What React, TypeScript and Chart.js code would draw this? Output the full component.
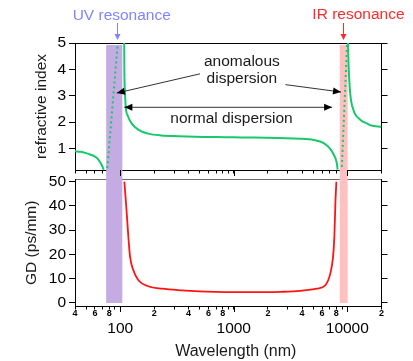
import React, { useEffect, useRef } from "react";
import { Chart, registerables } from "chart.js";
Chart.register(...registerables);

const W = 413;
const H = 361;
const FONT = "'Liberation Sans', Arial, Helvetica, sans-serif";

// ---- layout (pixels) ----
const PLOT_LEFT = 75;
const PLOT_RIGHT = 381.5;
const TOP1 = 43;
const BOT1 = 170;
const TOP2 = 179.5;
const BOT2 = 306;

// ---- x axis (wavelength, nm) ----
const WL_MIN = 40;
const WL_MAX = 20000;
const xTickValues = [40, 50, 60, 70, 80, 90, 100, 200, 300, 400, 500, 600, 700, 800, 900, 1000, 2000, 3000, 4000, 5000, 6000, 7000, 8000, 9000, 10000, 20000];
const xTickLabels = ["4", "", "6", "", "8", "", "100", "2", "", "4", "", "6", "", "8", "", "1000", "2", "", "4", "", "6", "", "8", "", "10000", "2"];

// ---- refractive index panel ----
const N_MIN = 0.18;
const N_MAX = 5;
const nTicks = [1, 2, 3, 4, 5];
const nLeftWl = [40, 45, 50, 55, 60, 63, 66, 68, 70, 71.5];
const nLeftVal = [0.89, 0.87, 0.82, 0.76, 0.69, 0.62, 0.5, 0.41, 0.3, 0.19];
const uvDotWl = [77, 95];
const uvDotVal = [0.25, 4.95];
const nMainWl = [108.5, 108.9, 110.3, 111.8, 117.4, 125.5, 144, 177, 231, 325, 455, 700, 1000, 1500, 2500, 3850, 5050, 6200, 7100, 7600, 8000, 8150, 8200];
const nMainVal = [5.0, 3.9, 3.1, 2.59, 2.21, 1.96, 1.71, 1.56, 1.49, 1.46, 1.44, 1.43, 1.42, 1.41, 1.39, 1.37, 1.32, 1.2, 0.97, 0.76, 0.52, 0.32, 0.2];
const irDotWl = [8950, 9950];
const irDotVal = [0.3, 4.95];
const nRightWl = [10140, 10250, 10600, 11300, 13000, 15000, 16000, 20000];
const nRightVal = [5.0, 4.2, 3.1, 2.47, 2.09, 1.94, 1.88, 1.81];

// ---- group delay panel ----
const GD_MIN = -1.24;
const GD_MAX = 50.9;
const gdTicks = [0, 10, 20, 30, 40, 50];
const gdWl = [108.8, 112.6, 118, 122.2, 130.6, 144.6, 177, 233, 349, 500, 690, 1000, 2000, 2570, 3850, 5400, 6400, 7090, 7490, 7690, 7850, 8010];
const gdVal = [50, 41, 27.3, 19, 13.5, 9.4, 6.9, 5.9, 5.2, 4.8, 4.6, 4.5, 4.5, 4.6, 5.0, 5.9, 7.3, 12.2, 19, 27.3, 41, 50];

// ---- resonance bands ----
const uvBand = [75.3, 104.4];
const irBand = [8570, 10070];

// ---- annotations (data coordinates) ----
const anomalousText = ["anomalous", "dispersion"];
const anomalousWl = 1180;
const anomalousN = [4.12, 3.5];
const anomalousArrowL = { from: [505, 3.83], to: [93.4, 3.1] };
const anomalousArrowR = { from: [2850, 3.42], to: [8800, 3.14] };
const normalText = "normal dispersion";
const normalTextAt = [955, 1.98];
const normalArrow = { from: [108.8, 2.56], to: [7345, 2.56] };
const uvLabel = "UV resonance";
const uvLabelWl = 103.2;
const uvArrowWl = 93.4;
const irLabel = "IR resonance";
const irLabelWl = 12530;
const irArrowWl = 9150;

const GREEN = "#17c86c";
const RED = "#ff1414";
const PURPLE = "#c4abe2";
const PINK = "#ffc0c0";
const UV_COLOR = "#8383ff";
const IR_COLOR = "#ff2a2a";

const pts = (xs: number[], ys: number[]) => xs.map((x, i) => ({ x, y: ys[i] }));

const bands = [
  { range: uvBand, color: PURPLE },
  { range: irBand, color: PINK },
];

function bandPlugin(topInset: number, bottomExtra: number) {
  return {
    id: "bands",
    beforeDatasetsDraw(chart: any) {
      const { ctx, chartArea, scales } = chart;
      ctx.save();
      for (const b of bands) {
        const x0 = scales.x.getPixelForValue(b.range[0]);
        const x1 = scales.x.getPixelForValue(b.range[1]);
        ctx.fillStyle = b.color;
        const y0 = chartArea.top + topInset;
        ctx.fillRect(x0, y0, x1 - x0, chartArea.bottom + bottomExtra - y0);
      }
      ctx.restore();
    },
  };
}

const decadeTickPlugin = {
  id: "decadeTicks",
  afterDraw(chart: any) {
    const { ctx, chartArea, scales } = chart;
    ctx.save();
    ctx.strokeStyle = "#000";
    ctx.lineWidth = 1;
    xTickValues.forEach((v, i) => {
      if (xTickLabels[i].length > 1) {
        const px = Math.round(scales.x.getPixelForValue(v)) + 0.5;
        ctx.beginPath();
        ctx.moveTo(px, chartArea.bottom);
        ctx.lineTo(px, chartArea.bottom + 6);
        ctx.stroke();
      }
    });
    ctx.restore();
  },
};

function arrowHead(ctx: CanvasRenderingContext2D, x0: number, y0: number, x1: number, y1: number, len = 8, half = 3.5) {
  const a = Math.atan2(y1 - y0, x1 - x0);
  const c = Math.cos(a);
  const s = Math.sin(a);
  ctx.beginPath();
  ctx.moveTo(x1, y1);
  ctx.lineTo(x1 - len * c + half * s, y1 - len * s - half * c);
  ctx.lineTo(x1 - len * c - half * s, y1 - len * s + half * c);
  ctx.closePath();
  ctx.fill();
}

const annotationPlugin = {
  id: "annotations",
  afterDraw(chart: any) {
    const { ctx, chartArea, scales } = chart;
    const X = (v: number) => scales.x.getPixelForValue(v);
    const Y = (v: number) => scales.y.getPixelForValue(v);
    ctx.save();
    ctx.font = `15.5px ${FONT}`;
    ctx.textAlign = "center";
    ctx.textBaseline = "alphabetic";
    ctx.fillStyle = "#1a1a1a";
    anomalousText.forEach((t, i) => ctx.fillText(t, X(anomalousWl), Y(anomalousN[i])));
    ctx.fillText(normalText, X(normalTextAt[0]), Y(normalTextAt[1]));

    const line = (a: number[], b: number[], heads: number) => {
      const x0 = X(a[0]), y0 = Y(a[1]), x1 = X(b[0]), y1 = Y(b[1]);
      ctx.strokeStyle = "#333";
      ctx.lineWidth = 1;
      ctx.beginPath();
      ctx.moveTo(x0, y0);
      ctx.lineTo(x1, y1);
      ctx.stroke();
      ctx.fillStyle = "#000";
      arrowHead(ctx, x0, y0, x1, y1);
      if (heads === 2) arrowHead(ctx, x1, y1, x0, y0);
    };
    line(anomalousArrowL.from, anomalousArrowL.to, 1);
    line(anomalousArrowR.from, anomalousArrowR.to, 1);
    line(normalArrow.from, normalArrow.to, 2);

    // resonance labels above the plot
    ctx.fillStyle = UV_COLOR;
    ctx.fillText(uvLabel, X(uvLabelWl), chartArea.top - 23);
    ctx.fillStyle = IR_COLOR;
    ctx.fillText(irLabel, X(irLabelWl), chartArea.top - 24.5);

    const vArrow = (wl: number, color: string) => {
      const x = Math.round(X(wl)) + 0.5;
      ctx.strokeStyle = color;
      ctx.fillStyle = color;
      ctx.lineWidth = 1;
      ctx.beginPath();
      ctx.moveTo(x, chartArea.top - 20);
      ctx.lineTo(x, chartArea.top - 6);
      ctx.stroke();
      arrowHead(ctx, x, chartArea.top - 20, x, chartArea.top - 3, 6, 3);
    };
    vArrow(uvArrowWl, UV_COLOR);
    vArrow(irArrowWl, IR_COLOR);
    ctx.restore();
  },
};

const xTitlePlugin = {
  id: "xTitle",
  afterDraw(chart: any) {
    const { ctx, scales } = chart;
    ctx.save();
    ctx.font = `16px ${FONT}`;
    ctx.fillStyle = "#1a1a1a";
    ctx.textAlign = "center";
    ctx.textBaseline = "alphabetic";
    ctx.fillText("Wavelength (nm)", scales.x.getPixelForValue(1000) + 2, H - 5);
    ctx.restore();
  },
};

const tickFont = { family: FONT, size: 15.5 };

function leftY(min: number, max: number, ticks: number[], title: string, titlePad: number) {
  return {
    position: "left",
    min,
    max,
    afterBuildTicks: (s: any) => {
      s.ticks = ticks.map((v) => ({ value: v }));
    },
    ticks: { color: "#000", font: tickFont, padding: 3 },
    grid: { drawOnChartArea: false, color: "#000", tickLength: 6, lineWidth: 1 },
    border: { color: "#000", width: 1 },
    title: { display: true, text: title, color: "#1a1a1a", font: { family: FONT, size: 15.5 }, padding: { top: titlePad, bottom: 0 } },
    afterFit: (s: any) => {
      s.width = PLOT_LEFT;
    },
  };
}

function rightY(min: number, max: number, ticks: number[]) {
  return {
    position: "right",
    min,
    max,
    afterBuildTicks: (s: any) => {
      s.ticks = ticks.map((v) => ({ value: v }));
    },
    ticks: { display: false },
    grid: { drawOnChartArea: false, color: "#000", tickLength: 6, lineWidth: 1 },
    border: { color: "#000", width: 1 },
    afterFit: (s: any) => {
      s.width = W - PLOT_RIGHT;
    },
  };
}

function topX(height: number, color: string) {
  return {
    type: "logarithmic",
    position: "top",
    min: WL_MIN,
    max: WL_MAX,
    ticks: { display: false },
    grid: { drawOnChartArea: false, drawTicks: false, color },
    border: { color, width: 1 },
    afterFit: (s: any) => {
      s.height = height;
    },
  };
}

function bottomX(height: number, showLabels: boolean) {
  return {
    type: "logarithmic",
    position: "bottom",
    min: WL_MIN,
    max: WL_MAX,
    afterBuildTicks: (s: any) => {
      s.ticks = xTickValues.map((v) => ({ value: v }));
    },
    ticks: {
      display: showLabels,
      autoSkip: false,
      maxRotation: 0,
      minRotation: 0,
      padding: 0,
      color: "#000",
      callback: (_v: any, i: number) => {
        const l = xTickLabels[i];
        return l.length > 1 ? ["", l] : l;
      },
      font: (ctx: any) => {
        const l = xTickLabels[ctx.index] || "";
        return l.length > 1
          ? { family: FONT, size: 15.5, lineHeight: 0.81 }
          : { family: FONT, size: 9, weight: "bold", lineHeight: 0.8 };
      },
    },
    grid: { drawOnChartArea: false, color: "#000", tickLength: 3.5, lineWidth: 1 },
    border: { color: "#000", width: 1 },
    afterFit: (s: any) => {
      s.height = height;
    },
  };
}

const lineDs = (data: any[], color: string, width: number, dash?: number[]) => ({
  data,
  borderColor: color,
  borderWidth: width,
  borderDash: dash || [],
  pointRadius: 0,
  fill: false,
  cubicInterpolationMode: "monotone",
});

function topConfig(): any {
  return {
    type: "line",
    data: {
      datasets: [
        lineDs(pts(nLeftWl, nLeftVal), GREEN, 2),
        lineDs(pts(uvDotWl, uvDotVal), GREEN, 2, [2, 3]),
        lineDs(pts(nMainWl, nMainVal), GREEN, 2),
        lineDs(pts(irDotWl, irDotVal), GREEN, 2, [2, 3]),
        lineDs(pts(nRightWl, nRightVal), GREEN, 2),
      ],
    },
    options: {
      animation: false,
      responsive: false,
      maintainAspectRatio: false,
      layout: { padding: 0 },
      plugins: { legend: { display: false }, tooltip: { enabled: false }, title: { display: false } },
      scales: {
        x: bottomX(H - BOT1, false),
        xTop: topX(TOP1, "#000"),
        y: leftY(N_MIN, N_MAX, nTicks, "refractive index", 32),
        y2: rightY(N_MIN, N_MAX, nTicks),
      },
    },
    plugins: [bandPlugin(2, TOP2 - BOT1), decadeTickPlugin, annotationPlugin],
  };
}

function bottomConfig(): any {
  return {
    type: "line",
    data: {
      datasets: [lineDs(pts(gdWl, gdVal), RED, 1.8)],
    },
    options: {
      animation: false,
      responsive: false,
      maintainAspectRatio: false,
      layout: { padding: 0 },
      plugins: { legend: { display: false }, tooltip: { enabled: false }, title: { display: false } },
      scales: {
        x: bottomX(H - BOT2, true),
        xTop: topX(TOP2, "#6a6a6a"),
        y: leftY(GD_MIN, GD_MAX, gdTicks, "GD (ps/mm)", 22.4),
        y2: rightY(GD_MIN, GD_MAX, gdTicks),
      },
    },
    plugins: [bandPlugin(-1, -3), decadeTickPlugin, xTitlePlugin],
  };
}

export default function App() {
  const topRef = useRef<HTMLCanvasElement>(null);
  const botRef = useRef<HTMLCanvasElement>(null);
  useEffect(() => {
    const c1 = new Chart(topRef.current as HTMLCanvasElement, topConfig());
    const c2 = new Chart(botRef.current as HTMLCanvasElement, bottomConfig());
    return () => {
      c1.destroy();
      c2.destroy();
    };
  }, []);
  return (
    <div style={{ position: "absolute", left: 0, top: 0, width: W, height: H, background: "#fff" }}>
      <canvas ref={topRef} width={W} height={H} style={{ position: "absolute", left: 0, top: 0 }} />
      <canvas ref={botRef} width={W} height={H} style={{ position: "absolute", left: 0, top: 0 }} />
    </div>
  );
}
